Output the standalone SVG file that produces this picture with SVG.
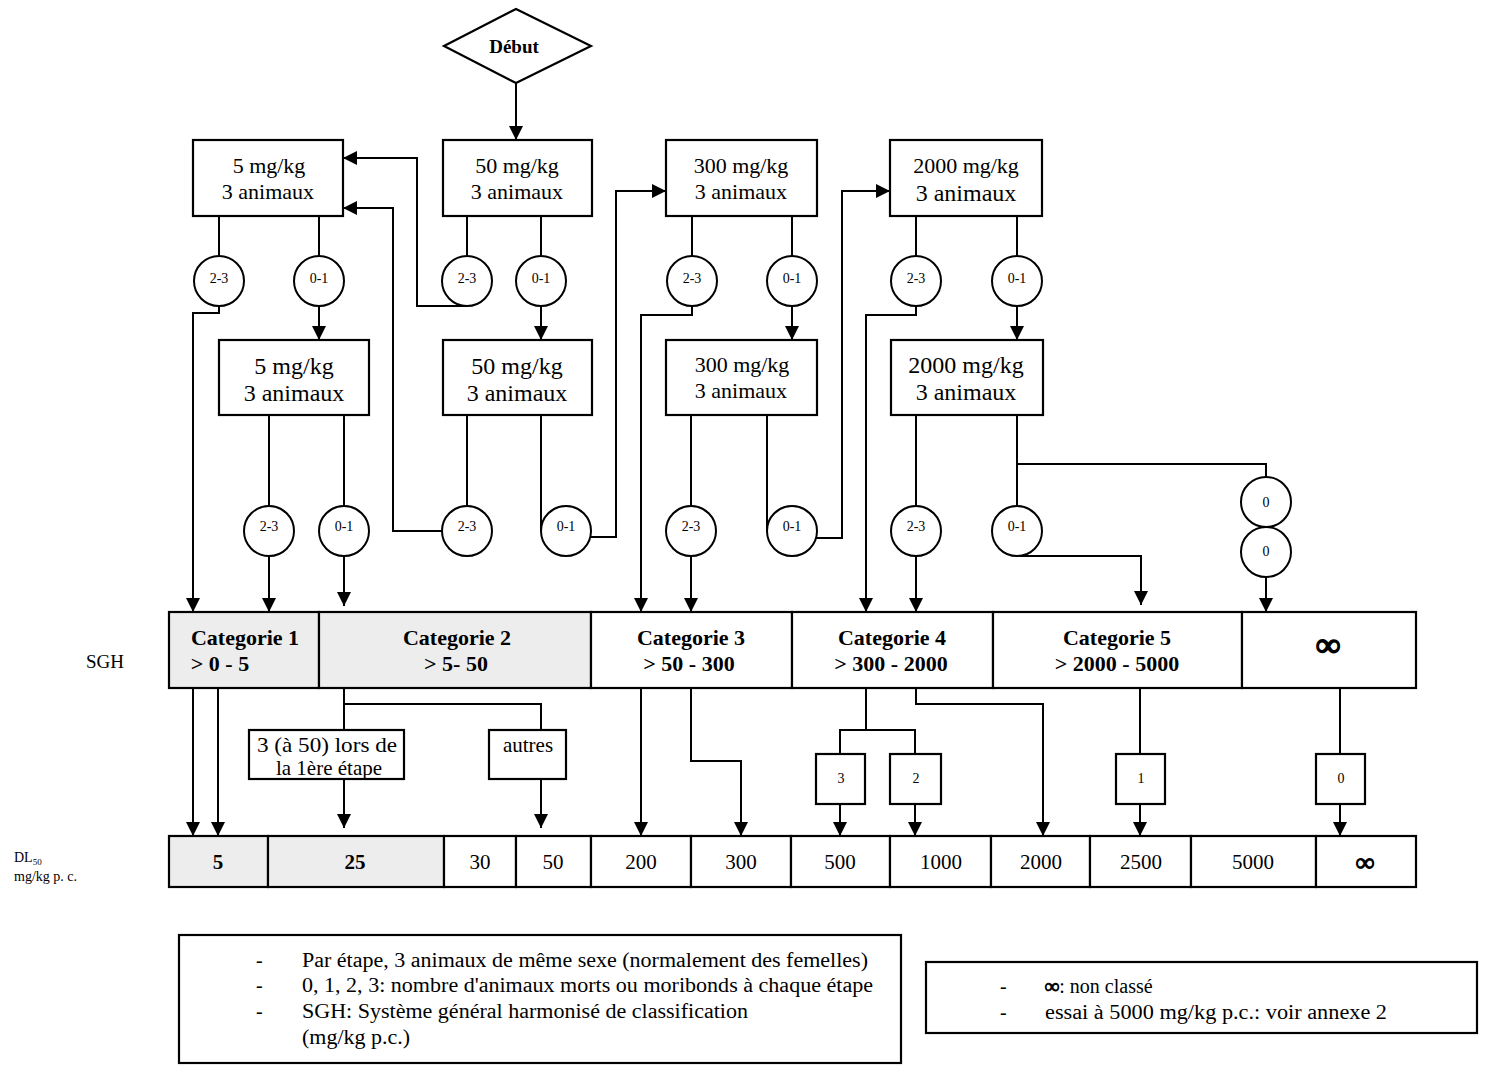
<svg xmlns="http://www.w3.org/2000/svg" width="1492" height="1075" viewBox="0 0 1492 1075">
<style>
  text { font-family: "Liberation Serif", "Times New Roman", serif; fill: #000; }
  .box { fill: #fff; stroke: #000; stroke-width: 2.2; }
  .grey { fill: #ededed; stroke: #000; stroke-width: 2.2; }
  .circ { fill: #fff; stroke: #000; stroke-width: 2; }
  .t22 { font-size: 22px; text-anchor: middle; }
  .t24 { font-size: 24px; text-anchor: middle; }
  .t21 { font-size: 21px; text-anchor: middle; }
  .c { font-size: 14px; text-anchor: middle; }
  .cat { font-size: 22px; font-weight: bold; text-anchor: middle; }
  .n { font-size: 21px; text-anchor: middle; }
  .nb { font-size: 21px; text-anchor: middle; font-weight: bold; }
  .inf { font-weight: bold; text-anchor: middle; stroke: #000; }
  .leg { font-size: 20px; }
  .conn path { fill: none; stroke: #000; stroke-width: 2; }
</style>
<defs>
  <marker id="ah" markerUnits="userSpaceOnUse" markerWidth="14" markerHeight="14" refX="14" refY="7" orient="auto">
    <path d="M0,0 L14,7 L0,14 z" fill="#000"/>
  </marker>
</defs>
<rect width="1492" height="1075" fill="#fff"/>

<!-- connectors -->
<g class="conn" id="connectors">
  <path d="M516,83 V140" marker-end="url(#ah)"/>
  <path d="M219,216 V256 M319,216 V256 M467,216 V256 M541,216 V256 M692,216 V256 M792,216 V256 M916,216 V256 M1017,216 V256"/>
  <path d="M319,306 V340" marker-end="url(#ah)"/>
  <path d="M541,306 V340" marker-end="url(#ah)"/>
  <path d="M792,306 V340" marker-end="url(#ah)"/>
  <path d="M1017,306 V340" marker-end="url(#ah)"/>
  <path d="M219,306 V313 H193 V612" marker-end="url(#ah)"/>
  <path d="M467,306 H417 V158 H343" marker-end="url(#ah)"/>
  <path d="M692,306 V315 H641 V612" marker-end="url(#ah)"/>
  <path d="M916,306 V315 H866 V612" marker-end="url(#ah)"/>
  <path d="M269,415 V506 M344,415 V506 M467,415 V506 M541,415 V531 M691,415 V506 M767,415 V531 M916,415 V506 M1017,415 V506"/>
  <path d="M1017,464 H1266 V477"/>
  <path d="M269,556 V612" marker-end="url(#ah)"/>
  <path d="M344,556 V606" marker-end="url(#ah)"/>
  <path d="M442,531 H393 V208 H343" marker-end="url(#ah)"/>
  <path d="M590,537 H616 V191 H666" marker-end="url(#ah)"/>
  <path d="M691,556 V612" marker-end="url(#ah)"/>
  <path d="M816,538 H842 V191 H890" marker-end="url(#ah)"/>
  <path d="M916,556 V612" marker-end="url(#ah)"/>
  <path d="M1020,556 H1141 V605" marker-end="url(#ah)"/>
  <path d="M1266,577 V612" marker-end="url(#ah)"/>
  <path d="M193,688 V836" marker-end="url(#ah)"/>
  <path d="M218,688 V836" marker-end="url(#ah)"/>
  <path d="M344,688 V730 M344,704 H541 V730"/>
  <path d="M344,779 V828" marker-end="url(#ah)"/>
  <path d="M541,779 V828" marker-end="url(#ah)"/>
  <path d="M641,688 V836" marker-end="url(#ah)"/>
  <path d="M691,688 V761 H741 V836" marker-end="url(#ah)"/>
  <path d="M866,688 V730 M840,754 V730 H915 V754"/>
  <path d="M840,804 V836" marker-end="url(#ah)"/>
  <path d="M915,804 V836" marker-end="url(#ah)"/>
  <path d="M916,688 V704 H1043 V836" marker-end="url(#ah)"/>
  <path d="M1140,688 V754"/>
  <path d="M1140,804 V836" marker-end="url(#ah)"/>
  <path d="M1340,688 V754"/>
  <path d="M1340,804 V836" marker-end="url(#ah)"/>
</g>

<g id="debut">
  <polygon class="box" points="444,46 516,9 591,46 516,83"/>
  <text x="514" y="53" font-size="19" font-weight="bold" text-anchor="middle">Début</text>
</g>

<g id="boxA1"><rect class="box" x="193" y="140" width="150" height="76"/>
  <text class="t22" x="269" y="173">5 mg/kg</text><text class="t22" x="268" y="199">3 animaux</text></g>
<g id="boxB1"><rect class="box" x="443" y="140" width="149" height="76"/>
  <text class="t22" x="517" y="173">50 mg/kg</text><text class="t22" x="517" y="199">3 animaux</text></g>
<g id="boxC1"><rect class="box" x="666" y="140" width="151" height="76"/>
  <text class="t22" x="741" y="173">300 mg/kg</text><text class="t22" x="741" y="199">3 animaux</text></g>
<g id="boxD1"><rect class="box" x="890" y="140" width="152" height="76"/>
  <text class="t22" x="966" y="173">2000 mg/kg</text><text class="t24" x="966" y="201">3 animaux</text></g>

<g id="cA1a"><circle class="circ" cx="219" cy="281" r="25"/><text class="c" x="219" y="283">2-3</text></g>
<g id="cA1b"><circle class="circ" cx="319" cy="281" r="25"/><text class="c" x="319" y="283">0-1</text></g>
<g id="cB1a"><circle class="circ" cx="467" cy="281" r="25"/><text class="c" x="467" y="283">2-3</text></g>
<g id="cB1b"><circle class="circ" cx="541" cy="281" r="25"/><text class="c" x="541" y="283">0-1</text></g>
<g id="cC1a"><circle class="circ" cx="692" cy="281" r="25"/><text class="c" x="692" y="283">2-3</text></g>
<g id="cC1b"><circle class="circ" cx="792" cy="281" r="25"/><text class="c" x="792" y="283">0-1</text></g>
<g id="cD1a"><circle class="circ" cx="916" cy="281" r="25"/><text class="c" x="916" y="283">2-3</text></g>
<g id="cD1b"><circle class="circ" cx="1017" cy="281" r="25"/><text class="c" x="1017" y="283">0-1</text></g>

<g id="boxA2"><rect class="box" x="219" y="340" width="150" height="75"/>
  <text class="t24" x="294" y="374">5 mg/kg</text><text class="t24" x="294" y="401">3 animaux</text></g>
<g id="boxB2"><rect class="box" x="443" y="340" width="149" height="75"/>
  <text class="t24" x="517" y="374">50 mg/kg</text><text class="t24" x="517" y="401">3 animaux</text></g>
<g id="boxC2"><rect class="box" x="666" y="340" width="151" height="75"/>
  <text class="t22" x="742" y="372">300 mg/kg</text><text class="t22" x="741" y="398">3 animaux</text></g>
<g id="boxD2"><rect class="box" x="891" y="340" width="152" height="75"/>
  <text class="t24" x="966" y="373">2000 mg/kg</text><text class="t24" x="966" y="400">3 animaux</text></g>

<g id="cA2a"><circle class="circ" cx="269" cy="531" r="25"/><text class="c" x="269" y="531">2-3</text></g>
<g id="cA2b"><circle class="circ" cx="344" cy="531" r="25"/><text class="c" x="344" y="531">0-1</text></g>
<g id="cB2a"><circle class="circ" cx="467" cy="531" r="25"/><text class="c" x="467" y="531">2-3</text></g>
<g id="cB2b"><circle class="circ" cx="566" cy="531" r="25"/><text class="c" x="566" y="531">0-1</text></g>
<g id="cC2a"><circle class="circ" cx="691" cy="531" r="25"/><text class="c" x="691" y="531">2-3</text></g>
<g id="cC2b"><circle class="circ" cx="792" cy="531" r="25"/><text class="c" x="792" y="531">0-1</text></g>
<g id="cD2a"><circle class="circ" cx="916" cy="531" r="25"/><text class="c" x="916" y="531">2-3</text></g>
<g id="cD2b"><circle class="circ" cx="1017" cy="531" r="25"/><text class="c" x="1017" y="531">0-1</text></g>
<g id="c0a"><circle class="circ" cx="1266" cy="502" r="25"/><text class="c" x="1266" y="507">0</text></g>
<g id="c0b"><circle class="circ" cx="1266" cy="552" r="25"/><text class="c" x="1266" y="556">0</text></g>

<text x="105" y="668" font-size="19" text-anchor="middle">SGH</text>
<g id="cat1"><rect class="grey" x="169" y="612" width="150" height="76"/>
  <text class="cat" x="245" y="645">Categorie 1</text><text class="cat" x="220" y="671">&gt; 0 - 5</text></g>
<g id="cat2"><rect class="grey" x="319" y="612" width="272" height="76"/>
  <text class="cat" x="457" y="645">Categorie 2</text><text class="cat" x="456" y="671">&gt; 5- 50</text></g>
<g id="cat3"><rect class="box" x="591" y="612" width="201" height="76"/>
  <text class="cat" x="691" y="645">Categorie 3</text><text class="cat" x="689" y="671">&gt; 50 - 300</text></g>
<g id="cat4"><rect class="box" x="792" y="612" width="201" height="76"/>
  <text class="cat" x="892" y="645">Categorie 4</text><text class="cat" x="891" y="671">&gt; 300 - 2000</text></g>
<g id="cat5"><rect class="box" x="993" y="612" width="249" height="76"/>
  <text class="cat" x="1117" y="645">Categorie 5</text><text class="cat" x="1117" y="671">&gt; 2000 - 5000</text></g>
<g id="catInf"><rect class="box" x="1242" y="612" width="174" height="76"/>
  <text class="inf" x="1328" y="656" font-size="34" stroke-width="1.6">∞</text></g>

<g id="box3a50"><rect class="box" x="249" y="730" width="155" height="49"/>
  <text class="t21" x="327" y="752" textLength="140" lengthAdjust="spacingAndGlyphs">3 (à 50) lors  de</text><text class="t21" x="329" y="775">la 1ère étape</text></g>
<g id="boxAutres"><rect class="box" x="489" y="730" width="77" height="49"/>
  <text class="t21" x="528" y="752">autres</text></g>
<g id="b3"><rect class="box" x="816" y="754" width="49" height="50"/><text class="c" x="841" y="783" font-size="16">3</text></g>
<g id="b2"><rect class="box" x="890" y="754" width="51" height="50"/><text class="c" x="916" y="783" font-size="16">2</text></g>
<g id="b1"><rect class="box" x="1116" y="754" width="49" height="50"/><text class="c" x="1141" y="783" font-size="16">1</text></g>
<g id="b0"><rect class="box" x="1316" y="754" width="49" height="50"/><text class="c" x="1341" y="783" font-size="16">0</text></g>

<text x="14" y="862" font-size="14">DL<tspan font-size="9" dy="3">50</tspan></text>
<text x="14" y="881" font-size="14">mg/kg p. c.</text>
<g id="dl50">
  <rect class="grey" x="169" y="836" width="99" height="51"/>
  <rect class="grey" x="268" y="836" width="176" height="51"/>
  <rect class="box" x="444" y="836" width="72" height="51"/>
  <rect class="box" x="516" y="836" width="75" height="51"/>
  <rect class="box" x="591" y="836" width="100" height="51"/>
  <rect class="box" x="691" y="836" width="100" height="51"/>
  <rect class="box" x="791" y="836" width="99" height="51"/>
  <rect class="box" x="890" y="836" width="101" height="51"/>
  <rect class="box" x="991" y="836" width="99" height="51"/>
  <rect class="box" x="1090" y="836" width="101" height="51"/>
  <rect class="box" x="1191" y="836" width="125" height="51"/>
  <rect class="box" x="1316" y="836" width="100" height="51"/>
  <text class="nb" x="218" y="869">5</text>
  <text class="nb" x="355" y="869">25</text>
  <text class="n" x="480" y="869">30</text>
  <text class="n" x="553" y="869">50</text>
  <text class="n" x="641" y="869">200</text>
  <text class="n" x="741" y="869">300</text>
  <text class="n" x="840" y="869">500</text>
  <text class="n" x="941" y="869">1000</text>
  <text class="n" x="1041" y="869">2000</text>
  <text class="n" x="1141" y="869">2500</text>
  <text class="n" x="1253" y="869">5000</text>
  <text class="inf" x="1365" y="871" font-size="26" stroke-width="1">∞</text>
</g>

<g id="legend1">
  <rect x="179" y="935" width="722" height="128" fill="#fff" stroke="#000" stroke-width="2.2"/>
  <text class="leg" x="256" y="967">-</text>
  <text class="leg" x="256" y="992">-</text>
  <text class="leg" x="256" y="1018">-</text>
  <text class="leg" x="302" y="967" textLength="566" lengthAdjust="spacingAndGlyphs">Par étape, 3 animaux de même sexe (normalement des femelles)</text>
  <text class="leg" x="302" y="992" textLength="571" lengthAdjust="spacingAndGlyphs">0, 1, 2, 3: nombre d'animaux morts ou moribonds à chaque étape</text>
  <text class="leg" x="302" y="1018" textLength="446" lengthAdjust="spacingAndGlyphs">SGH: Système général harmonisé de classification</text>
  <text class="leg" x="302" y="1044" textLength="108" lengthAdjust="spacingAndGlyphs">(mg/kg p.c.)</text>
</g>
<g id="legend2">
  <rect x="926" y="962" width="551" height="71" fill="#fff" stroke="#000" stroke-width="2.2"/>
  <text class="leg" x="1000" y="993">-</text>
  <text class="leg" x="1000" y="1019">-</text>
  <text class="leg" x="1045" y="993"><tspan font-weight="bold" stroke="#000" stroke-width="0.8">∞</tspan>: non classé</text>
  <text class="leg" x="1045" y="1019" textLength="342" lengthAdjust="spacingAndGlyphs">essai à 5000 mg/kg p.c.: voir annexe 2</text>
</g>
</svg>
